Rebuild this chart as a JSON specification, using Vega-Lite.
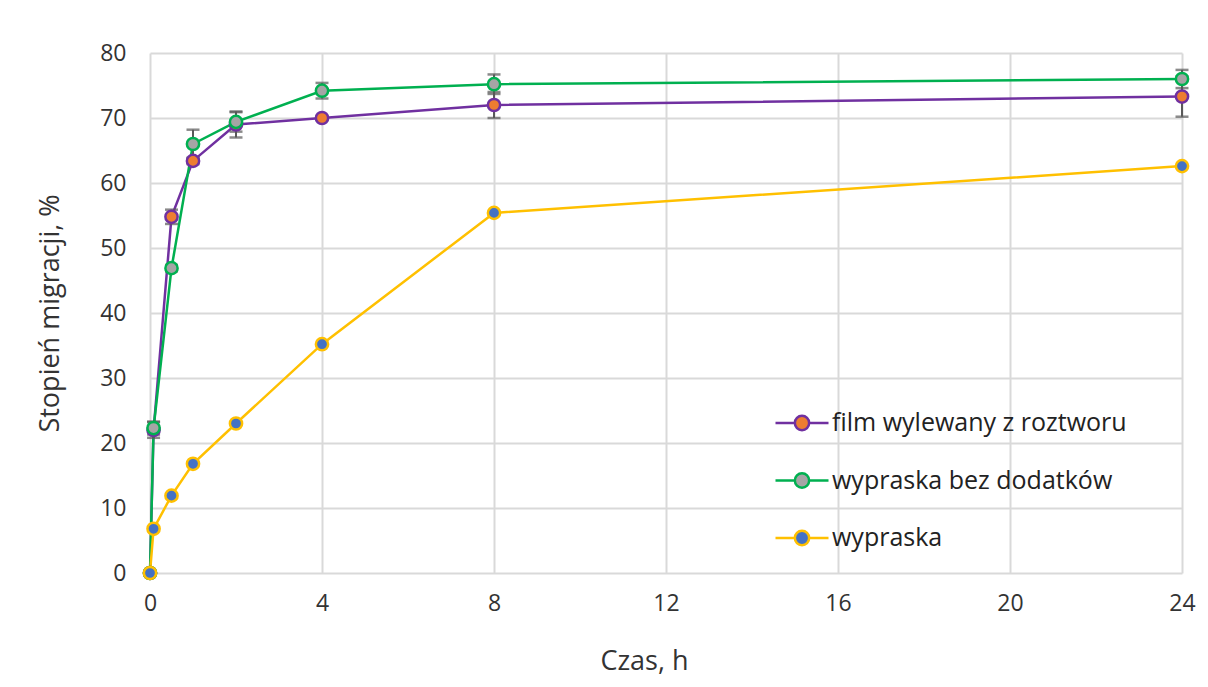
{
  "$schema": "https://vega.github.io/schema/vega-lite/v6.json",
  "width": 1032,
  "height": 520,
  "autosize": "none",
  "padding": {"left": 150, "top": 53, "right": 26, "bottom": 114},
  "background": "white",
  "config": {
    "font": "Open Sans",
    "view": {"stroke": null},
    "axis": {"labelFont": "Open Sans", "titleFont": "Open Sans", "labelColor": "#333333", "titleColor": "#333333", "titleFontWeight": "normal", "labelFontSize": 23, "titleFontSize": 27, "domain": false, "ticks": false, "grid": true, "gridColor": "#d9d9d9", "gridWidth": 2, "labelFlush": false},
    "legend": {"labelFont": "Open Sans", "labelFontSize": 25, "labelColor": "#222222", "labelLimit": 0, "orient": "none", "legendX": 624, "legendY": 342, "padding": 0, "symbolSize": 2809, "symbolStrokeWidth": 2.5, "symbolOpacity": 1, "labelOffset": 2, "rowPadding": 16.5, "symbolType": "M-1,0H-0.27M0.27,0H1M-0.27,0A0.27,0.27 0 1,0 0.27,0A0.27,0.27 0 1,0 -0.27,0Z"}
  },
  "data": {
    "values": [
      {"series": "film wylewany z roztworu", "t": 0, "y": 0, "lo": null, "hi": null},
      {"series": "film wylewany z roztworu", "t": 0.083, "y": 22.0, "lo": 20.8, "hi": 23.2},
      {"series": "film wylewany z roztworu", "t": 0.5, "y": 54.8, "lo": 53.7, "hi": 55.9},
      {"series": "film wylewany z roztworu", "t": 1, "y": 63.4, "lo": 62.9, "hi": 63.9},
      {"series": "film wylewany z roztworu", "t": 2, "y": 69.0, "lo": 67.0, "hi": 71.0},
      {"series": "film wylewany z roztworu", "t": 4, "y": 70.0, "lo": 69.7, "hi": 70.3},
      {"series": "film wylewany z roztworu", "t": 8, "y": 72.0, "lo": 70.0, "hi": 74.0},
      {"series": "film wylewany z roztworu", "t": 24, "y": 73.3, "lo": 70.2, "hi": 76.4},
      {"series": "wypraska bez dodatków", "t": 0, "y": 0, "lo": null, "hi": null},
      {"series": "wypraska bez dodatków", "t": 0.083, "y": 22.3, "lo": 21.3, "hi": 23.3},
      {"series": "wypraska bez dodatków", "t": 0.5, "y": 46.9, "lo": 46.4, "hi": 47.4},
      {"series": "wypraska bez dodatków", "t": 1, "y": 66.0, "lo": 63.8, "hi": 68.2},
      {"series": "wypraska bez dodatków", "t": 2, "y": 69.4, "lo": 67.9, "hi": 70.9},
      {"series": "wypraska bez dodatków", "t": 4, "y": 74.2, "lo": 73.0, "hi": 75.4},
      {"series": "wypraska bez dodatków", "t": 8, "y": 75.2, "lo": 73.7, "hi": 76.7},
      {"series": "wypraska bez dodatków", "t": 24, "y": 76.0, "lo": 74.6, "hi": 77.4},
      {"series": "wypraska", "t": 0, "y": 0, "lo": null, "hi": null},
      {"series": "wypraska", "t": 0.083, "y": 6.8, "lo": null, "hi": null},
      {"series": "wypraska", "t": 0.5, "y": 11.9, "lo": null, "hi": null},
      {"series": "wypraska", "t": 1, "y": 16.8, "lo": null, "hi": null},
      {"series": "wypraska", "t": 2, "y": 23.0, "lo": null, "hi": null},
      {"series": "wypraska", "t": 4, "y": 35.2, "lo": null, "hi": null},
      {"series": "wypraska", "t": 8, "y": 55.4, "lo": null, "hi": null},
      {"series": "wypraska", "t": 24, "y": 62.6, "lo": null, "hi": null}
    ]
  },
  "encoding": {
    "x": {"field": "t", "type": "quantitative", "scale": {"domain": [0, 24], "nice": false, "zero": false},
      "axis": {"values": [0, 4, 8, 12, 16, 20, 24], "title": "Czas, h", "labelPadding": 19, "titleX": 494, "titleY": 96, "titleBaseline": "alphabetic", "titleAlign": "center"}}
  },
  "layer": [
    {
      "mark": {"type": "line", "strokeWidth": 2.5},
      "encoding": {
        "y": {"field": "y", "type": "quantitative", "scale": {"domain": [0, 80], "nice": false},
          "axis": {"values": [0, 10, 20, 30, 40, 50, 60, 70, 80], "title": "Stopień migracji, %", "labelPadding": 24, "titleX": -92, "titleY": 260, "titleBaseline": "alphabetic", "titleAlign": "center", "titleAngle": -90}},
        "stroke": {"field": "series", "type": "nominal", "title": null,
          "scale": {"domain": ["film wylewany z roztworu", "wypraska bez dodatków", "wypraska"], "range": ["#7030A0", "#00B050", "#FFC000"]}},
        "order": {"field": "t", "type": "quantitative"}
      }
    },
    {
      "transform": [{"filter": "datum.lo != null"}],
      "mark": {"type": "rule", "color": "#595959", "strokeWidth": 2},
      "encoding": {
        "y": {"field": "lo", "type": "quantitative"},
        "y2": {"field": "hi"}
      }
    },
    {
      "transform": [{"filter": "datum.lo != null"}],
      "mark": {"type": "tick", "color": "#595959", "orient": "horizontal", "size": 13, "thickness": 2.5},
      "encoding": {"y": {"field": "lo", "type": "quantitative"}}
    },
    {
      "transform": [{"filter": "datum.lo != null"}],
      "mark": {"type": "tick", "color": "#595959", "orient": "horizontal", "size": 13, "thickness": 2.5},
      "encoding": {"y": {"field": "hi", "type": "quantitative"}}
    },
    {
      "mark": {"type": "point", "filled": false, "shape": "circle", "size": 150, "strokeWidth": 2.5, "opacity": 1},
      "encoding": {
        "y": {"field": "y", "type": "quantitative"},
        "stroke": {"field": "series", "type": "nominal", "title": null,
          "scale": {"domain": ["film wylewany z roztworu", "wypraska bez dodatków", "wypraska"], "range": ["#7030A0", "#00B050", "#FFC000"]}},
        "fill": {"field": "series", "type": "nominal", "title": null,
          "scale": {"domain": ["film wylewany z roztworu", "wypraska bez dodatków", "wypraska"], "range": ["#ED7D31", "#A5A5A5", "#4472C4"]}}
      }
    }
  ]
}
